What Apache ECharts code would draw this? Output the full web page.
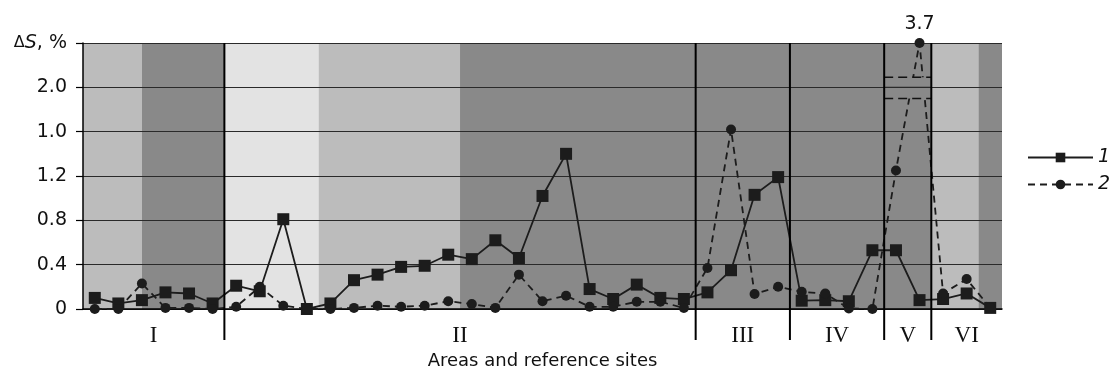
<!DOCTYPE html>
<html>
<head>
<meta charset="utf-8">
<script src="https://cdn.jsdelivr.net/npm/echarts@6/dist/echarts.min.js"></script>
<style>html,body{margin:0;padding:0;background:#fff}#c{width:1110px;height:372px}</style>
</head>
<body>
<div id="c"></div>
<script>
// ---- data ----
const regionNames = ['I', 'II', 'III', 'IV', 'V', 'VI'];
const regionCounts = [6, 20, 4, 4, 2, 3];
const yTickLabels = ['0', '0.4', '0.8', '1.2', '1.0', '2.0', 'ΔS, %'];
const series1 = [
  0.10, 0.05, 0.08, 0.15, 0.14, 0.05,
  0.21, 0.16, 0.81, 0.00, 0.05, 0.26, 0.31, 0.38, 0.39, 0.49, 0.45, 0.62, 0.46, 1.02, 1.40, 0.18, 0.09, 0.22, 0.10, 0.09,
  0.15, 0.35, 1.03, 1.19,
  0.075, 0.08, 0.07, 0.53,
  0.53, 0.08,
  0.09, 0.14, 0.01
];
const series2 = [
  0.00, 0.00, 0.23, 0.01, 0.01, 0.00,
  0.02, 0.20, 0.03, 0.00, 0.00, 0.01, 0.03, 0.02, 0.03, 0.07, 0.045, 0.01, 0.31, 0.07, 0.12, 0.02, 0.02, 0.065, 0.065, 0.01,
  0.37, 1.62, 0.135, 0.20,
  0.155, 0.14, 0.005, 0.00,
  1.25, 3.7,
  0.14, 0.27, 0.01
];
// background shading bands: [startSite, endSite, shade]
const bands = [[0, 2.5, 1], [2.5, 6, 2], [6, 10, 0], [10, 16, 1], [16, 36, 2], [36, 38, 1], [38, 39, 2]];
const seriesNames = ['1', '2'];

// ---- derived ----
const categories = [];
const regionSpans = [];
let acc = 0;
regionNames.forEach((r, i) => {
  regionSpans.push([acc, acc + regionCounts[i], i]);
  for (let k = 1; k <= regionCounts[i]; k++) categories.push(r + '-' + k);
  acc += regionCounts[i];
});
const N = acc;
const yStep = 0.4, yMax = 2.4;
const shadeColors = ['#e3e3e3', '#bcbcbc', '#898989'];
const breakLo = 1.9, breakHi = 2.09;
const vSpan = regionSpans[4];

const s2data = series2.map(v => v > yMax
  ? { value: yMax, label: { show: true, formatter: String(v), position: 'top', distance: 4, fontFamily: 'DejaVu Sans', fontSize: 19, color: '#111' } }
  : v);

const chart = echarts.init(document.getElementById('c'), null, { renderer: 'canvas' });
const font = 'DejaVu Sans';
chart.setOption({
  animation: false,
  backgroundColor: '#fff',
  grid: { left: 83, right: 108, top: 43, bottom: 63, containLabel: false, outerBoundsMode: 'none' },
  legend: {
    data: seriesNames, orient: 'vertical', left: 1027, top: 148,
    itemWidth: 65, itemHeight: 12, itemGap: 8, padding: 0,
    textStyle: { fontFamily: font, fontSize: 19, fontStyle: 'italic', color: '#111' }
  },
  xAxis: [{
    type: 'category', data: categories, boundaryGap: true,
    axisLine: { lineStyle: { color: '#000', width: 1.5 } },
    axisTick: { interval: 0, length: 5, lineStyle: { color: '#000', width: 1.2 } },
    axisLabel: { show: false }, splitLine: { show: false },
    name: 'Areas and reference sites', nameLocation: 'middle', nameGap: 43,
    nameTextStyle: { fontFamily: font, fontSize: 18, color: '#111' }
  }, {
    type: 'value', min: 0, max: N, show: false
  }],
  yAxis: {
    type: 'value', min: 0, max: yMax, interval: yStep,
    axisLine: { show: true, lineStyle: { color: '#000', width: 1.5 } },
    axisTick: { show: true, length: 7, lineStyle: { color: '#000', width: 1.2 } },
    axisLabel: {
      margin: 16, color: '#111', fontFamily: font, fontSize: 19,
      formatter: v => {
        const t = yTickLabels[Math.round(v / yStep)];
        if (t.indexOf('S') >= 0) return '{d|Δ}{s|S}{n|, %}';
        return t;
      },
      rich: {
        d: { fontFamily: font, fontSize: 16, color: '#111' },
        s: { fontFamily: font, fontSize: 19, fontStyle: 'italic', color: '#111' },
        n: { fontFamily: font, fontSize: 19, color: '#111' }
      }
    },
    splitLine: { lineStyle: { color: '#2a2a2a', width: 1.2 } }
  },
  series: [
    {
      type: 'custom', name: 'bands', xAxisIndex: 1, z: -1, silent: true,
      encode: { x: [0, 1], y: 2 },
      data: bands,
      renderItem: (params, api) => {
        const p0 = api.coord([api.value(0), yMax]);
        const p1 = api.coord([api.value(1), 0]);
        return { type: 'rect', shape: { x: p0[0], y: p0[1], width: p1[0] - p0[0], height: p1[1] - p0[1] }, style: { fill: shadeColors[api.value(2)] } };
      }
    },
    {
      type: 'line', name: seriesNames[0], data: series1,
      symbol: 'rect', symbolSize: 12,
      lineStyle: { color: '#1c1c1c', width: 1.8 },
      itemStyle: { color: '#1c1c1c' }, z: 2
    },
    {
      type: 'line', name: seriesNames[1], data: s2data, clip: false,
      symbol: 'circle', symbolSize: 10,
      lineStyle: { color: '#1c1c1c', width: 1.8, type: [7, 5] },
      itemStyle: { color: '#1c1c1c' }, z: 2
    },
    {
      type: 'custom', name: 'break', xAxisIndex: 1, z: 3, silent: true,
      encode: { x: [0, 1] },
      data: [[vSpan[0], vSpan[1]]],
      renderItem: (params, api) => {
        const a = api.coord([api.value(0), breakHi]);
        const b = api.coord([api.value(1), breakLo]);
        const g = api.coord([api.value(0), 2.0]);
        return { type: 'group', children: [
          { type: 'rect', shape: { x: a[0], y: a[1], width: b[0] - a[0], height: b[1] - a[1] }, style: { fill: shadeColors[2] } },
          { type: 'line', shape: { x1: a[0], y1: g[1], x2: b[0], y2: g[1] }, style: { stroke: '#2a2a2a', lineWidth: 1.2 } },
          { type: 'line', shape: { x1: a[0], y1: a[1], x2: b[0], y2: a[1] }, style: { stroke: '#111', lineWidth: 1.5, lineDash: [9, 5] } },
          { type: 'line', shape: { x1: a[0], y1: b[1], x2: b[0], y2: b[1] }, style: { stroke: '#111', lineWidth: 1.5, lineDash: [9, 5] } }
        ] };
      }
    },
    {
      type: 'custom', name: 'regions', xAxisIndex: 1, z: 4, silent: true, clip: false,
      encode: { x: [0, 1] },
      data: regionSpans,
      renderItem: (params, api) => {
        const s = api.value(0), e = api.value(1), i = api.value(2);
        const top = api.coord([s, yMax]);
        const bot = api.coord([s, 0]);
        const mid = api.coord([(s + e) / 2, 0]);
        const children = [{
          type: 'text', x: mid[0], y: bot[1] + 27,
          style: { text: regionNames[i], fontFamily: 'Liberation Serif', fontSize: 23, fill: '#111', align: 'center', verticalAlign: 'middle' }
        }];
        if (s > 0) children.push({ type: 'line', shape: { x1: top[0], y1: top[1], x2: top[0], y2: bot[1] + 31 }, style: { stroke: '#000', lineWidth: 2 } });
        return { type: 'group', children };
      }
    }
  ]
});
</script>
</body>
</html>
